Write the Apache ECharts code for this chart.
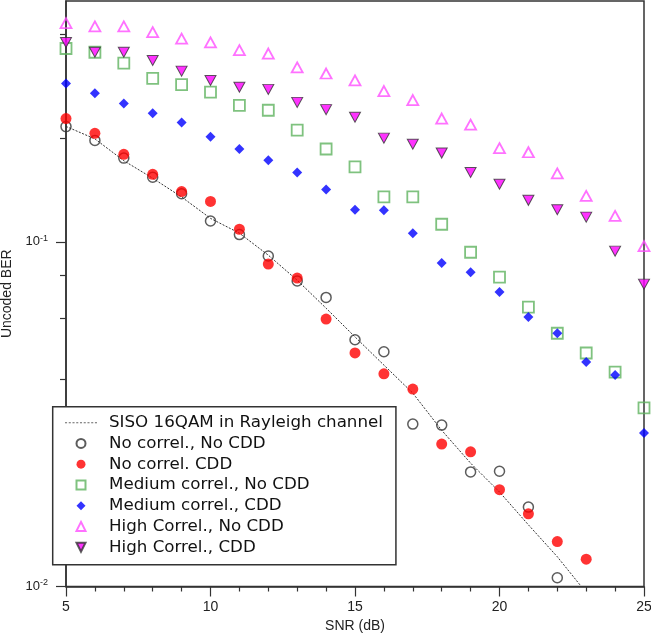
<!DOCTYPE html>
<html>
<head>
<meta charset="utf-8">
<script src="https://cdn.jsdelivr.net/npm/echarts@6/dist/echarts.min.js"></script>
<style>html,body{margin:0;padding:0;background:#fff}#c{width:651px;height:637px}</style>
</head>
<body>
<div id="c"></div>
<script>
// ---- data ----
var snr = [5,6,7,8,9,10,11,12,13,14,15,16,17,18,19,20,21,22,23,24,25];
var sisoTheory = [0.2163,0.199,0.172,0.153,0.135,0.117,0.106,0.0915,0.0774,0.0642,0.053,0.0439,0.0364,0.0284,0.0228,0.0188,0.0151,0.0122,0.0096];
var noCorrNoCdd = [0.216,0.197,0.175,0.154,0.138,0.115,0.105,0.091,0.077,0.069,0.052,0.048,0.0296,0.0294,0.0215,0.0216,0.017,0.0106];
var noCorrCdd = [0.228,0.2065,0.1795,0.157,0.140,0.131,0.1088,0.0862,0.0785,0.0597,0.0476,0.0414,0.0374,0.0259,0.0246,0.0191,0.01625,0.0135,0.0120];
var medNoCdd = [0.364,0.355,0.330,0.298,0.286,0.272,0.249,0.241,0.211,0.186,0.165,0.135,0.135,0.1125,0.0933,0.079,0.0647,0.0543,0.0476,0.0419,0.033];
var medCdd = [0.288,0.270,0.252,0.236,0.222,0.202,0.186,0.1725,0.159,0.142,0.124,0.1236,0.106,0.0868,0.0817,0.0715,0.0605,0.0543,0.0448,0.0411,0.0279];
var highNoCdd = [0.431,0.422,0.422,0.406,0.389,0.379,0.360,0.352,0.321,0.308,0.294,0.274,0.258,0.228,0.219,0.187,0.182,0.158,0.136,0.119,0.0972];
var highCdd = [0.379,0.355,0.355,0.336,0.313,0.294,0.281,0.277,0.254,0.242,0.230,0.200,0.192,0.181,0.159,0.147,0.132,0.124,0.118,0.094,0.0754];
var names = ['SISO 16QAM in Rayleigh channel','No correl., No CDD','No correl. CDD','Medium correl., No CDD','Medium correl., CDD','High Correl., No CDD','High Correl., CDD'];
var yMajorTicks = [0.01, 0.1];
var yMinorTicks = [0.02,0.04,0.06,0.08,0.2,0.4];

function pairs(v){ return v.map(function(y,i){ return [snr[i], y]; }); }

var axisColor = '#333';
var chart = echarts.init(document.getElementById('c'), null, {renderer:'canvas'});
var sqSym = 'path://M0,0L10,0L10,10L0,10Z';
var diaSym = 'path://M5,0L10,5L5,10L0,5Z';
var upTri = 'path://M5,0L10,10L0,10Z';
var downTri = 'path://M0,0L10,0L5,10Z';
// dotted-line legend glyph
var dots = 'path://';
for (var k = 0; k < 9; k++) { dots += 'M' + (k*3.6) + ',0h2v1h-2z'; }

chart.setOption({
  animation: false,
  backgroundColor: '#fff',
  grid: {left: 66, right: 7, top: 1, bottom: 50.5, containLabel: false, outerBoundsMode: 'none',
         show: true, borderColor: axisColor, borderWidth: 1.5, backgroundColor: 'transparent'},
  xAxis: {
    type: 'value', min: 5, max: 25, interval: 5,
    name: 'SNR (dB)', nameLocation: 'middle', nameGap: 29,
    nameTextStyle: {fontFamily: 'Liberation Sans', fontSize: 14, color: '#222'},
    axisLine: {show: true, lineStyle: {color: axisColor, width: 1.5}},
    axisTick: {show: true, length: 10, inside: false, lineStyle: {color: axisColor, width: 1.2}},
    minorTick: {show: true, splitNumber: 5, length: 5, lineStyle: {color: axisColor, width: 1.2}},
    axisLabel: {fontFamily: 'Liberation Sans', fontSize: 14, color: '#222', margin: 14},
    splitLine: {show: false}, minorSplitLine: {show: false}
  },
  yAxis: [{
    type: 'log', logBase: 10, min: 0.01, max: 0.5,
    name: 'Uncoded BER', nameLocation: 'middle', nameGap: 43,
    nameTextStyle: {fontFamily: 'Liberation Sans', fontSize: 14, color: '#222'},
    axisLine: {show: true, lineStyle: {color: axisColor, width: 1.5}},
    axisTick: {show: true, length: 10, customValues: yMajorTicks, lineStyle: {color: axisColor, width: 1.2}},
    axisLabel: {
      customValues: yMajorTicks, margin: 18,
      formatter: function(v){ var e = Math.round(Math.log10(v)); return '{b|10}{s|' + e + '}'; },
      rich: {
        b: {fontFamily: 'Liberation Sans', fontSize: 13, color: '#222', lineHeight: 16},
        s: {fontFamily: 'Liberation Sans', fontSize: 9, color: '#222', verticalAlign: 'top', lineHeight: 10}
      }
    },
    splitLine: {show: false}
  },{
    type: 'log', logBase: 10, min: 0.01, max: 0.5, position: 'left',
    axisLine: {show: false},
    axisTick: {show: true, length: 6, customValues: yMinorTicks, lineStyle: {color: axisColor, width: 1.2}},
    axisLabel: {show: false},
    splitLine: {show: false}
  }],
  legend: {
    orient: 'vertical', left: 52.7, top: 406.7,
    data: [
      {name: names[0], icon: dots, itemStyle: {color: '#666', borderWidth: 0}, lineStyle: {width: 0}},
      {name: names[1]}, {name: names[2]}, {name: names[3]},
      {name: names[4]}, {name: names[5]}, {name: names[6]}
    ],
    itemWidth: 32, itemHeight: 9, itemGap: 0, symbolKeepAspect: true,
    padding: [5.6, 13, 7.3, 12.3],
    borderColor: axisColor, borderWidth: 1.5, backgroundColor: '#fff',
    textStyle: {fontFamily: 'DejaVu Sans', fontSize: 16.7, color: '#111', lineHeight: 20.75, padding: [0,0,0,7]},
    selectedMode: false
  },
  series: [
    {name: names[0], type: 'line', data: pairs(sisoTheory), symbol: 'none', showSymbol: false, clip: true,
     lineStyle: {color: '#333', width: 1, type: [2,1.5]}, itemStyle: {color: '#333'}, z: 1},
    {name: names[1], type: 'scatter', data: pairs(noCorrNoCdd), symbol: 'circle', symbolSize: 10,
     itemStyle: {color: 'rgba(255,255,255,0)', borderColor: '#333', borderWidth: 1.5}, z: 2},
    {name: names[2], type: 'scatter', data: pairs(noCorrCdd), symbol: 'circle', symbolSize: 11,
     itemStyle: {color: '#ff0000'}, z: 3},
    {name: names[3], type: 'scatter', data: pairs(medNoCdd), symbol: sqSym, symbolSize: 11,
     itemStyle: {color: 'rgba(255,255,255,0)', borderColor: '#5fb35f', borderWidth: 1.8}, z: 4},
    {name: names[4], type: 'scatter', data: pairs(medCdd), symbol: diaSym, symbolSize: 10,
     itemStyle: {color: '#0000ff'}, z: 5},
    {name: names[5], type: 'scatter', data: pairs(highNoCdd), symbol: upTri, symbolSize: [11,10],
     itemStyle: {color: 'rgba(255,255,255,0)', borderColor: '#ff4dff', borderWidth: 1.8}, z: 6},
    {name: names[6], type: 'scatter', data: pairs(highCdd), symbol: downTri, symbolSize: [11,10],
     itemStyle: {color: '#ff00ff', borderColor: '#333', borderWidth: 1}, z: 7}
  ]
});
</script>
</body>
</html>
